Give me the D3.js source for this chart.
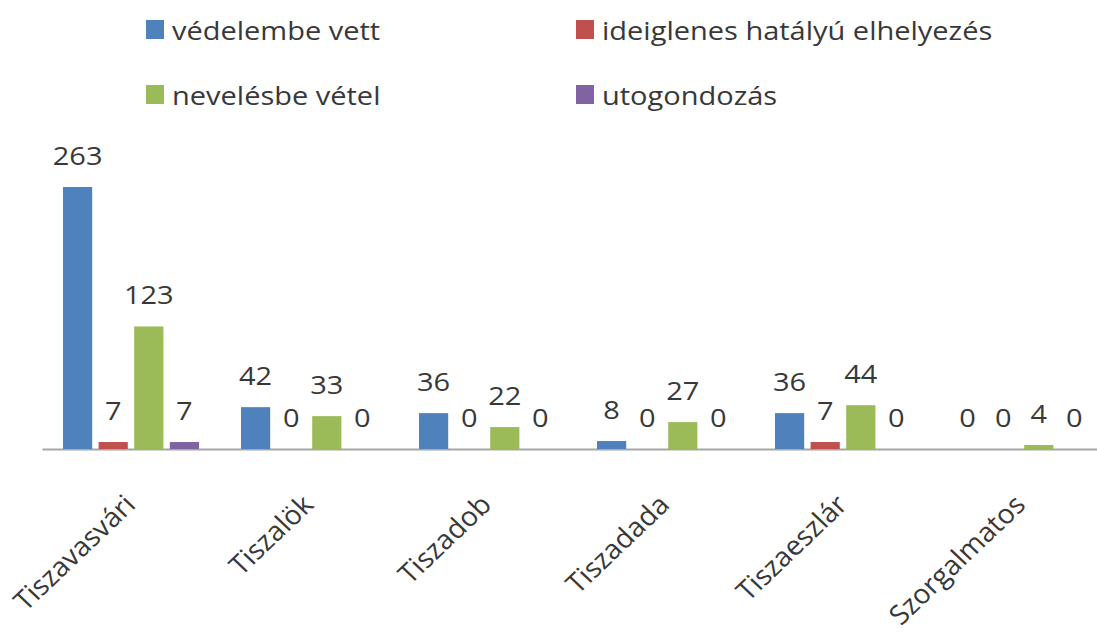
<!DOCTYPE html>
<html><head><meta charset="utf-8">
<script src="https://cdn.jsdelivr.net/npm/d3@7"></script>
<style>body{margin:0;background:#fff}svg{display:block}text{font-family:"Open Sans",sans-serif;fill:#383838;font-weight:500}</style>
</head><body><svg id="c" width="1097" height="633"></svg>
<script>
const categories = ["Tiszavasvári","Tiszalök","Tiszadob","Tiszadada","Tiszaeszlár","Szorgalmatos"];
const seriesNames = ["védelembe vett","ideiglenes hatályú elhelyezés","nevelésbe vétel","utogondozás"];
const vedelembeVett = [263,42,36,8,36,0];
const ideiglenes = [7,0,0,0,7,0];
const nevelesbeVetel = [123,33,22,27,44,4];
const utogondozas = [7,0,0,0,0,0];
const colors = ["#4F81BD","#C0504D","#9BBB59","#8064A2"];

const series = [vedelembeVett, ideiglenes, nevelesbeVetel, utogondozas];
const svg = d3.select("#c");
const SX = 1.16;
const FS = 25;
const baseY = 449;
const x0 = d3.scaleBand().domain(categories).range([42,1110]).padding(0);
const x1 = d3.scaleBand().domain(d3.range(4)).range([21, 157]).paddingInner(0.18).paddingOuter(0);
const y = d3.scaleLinear().domain([0,263]).range([baseY,187]);

// axis
const xAxis = d3.axisBottom(x0).tickSize(0).tickFormat("");
const ax = svg.append("g").attr("transform",`translate(0,${baseY})`).call(xAxis);
ax.select(".domain").attr("stroke","#a6a6a6").attr("stroke-width",2);

const g = svg.append("g");
categories.forEach((c,ci)=>{
  series.forEach((s,si)=>{
    const v = s[ci];
    const bx = x0(c)+x1(si);
    if (v>0) g.append("rect").attr("x",bx).attr("y",y(v)).attr("width",x1.bandwidth()).attr("height",baseY-y(v)).attr("fill",colors[si]);
    g.append("text").attr("transform",`translate(${bx+x1.bandwidth()/2},${y(v)-22}) scale(${SX},1)`)
      .attr("text-anchor","middle").attr("font-size",FS).text(v);
  });
  const cx = x0(c)+x0.bandwidth()/2-8;
  svg.append("text").attr("transform",`translate(${cx},${baseY+44}) scale(1.05,1) rotate(-45)`)
    .attr("text-anchor","end").attr("dy","0.7em").attr("font-size",27).text(c);
});

// legend
const legPos = [[146,20],[576,20],[146,85],[576,85]];
seriesNames.forEach((n,i)=>{
  const [lx,ly]=legPos[i];
  svg.append("rect").attr("x",lx).attr("y",ly).attr("width",18).attr("height",19).attr("fill",colors[i]);
  svg.append("text").attr("transform",`translate(${lx+26},${ly+20}) scale(${SX},1)`).attr("font-size",FS).text(n);
});
</script></body></html>
